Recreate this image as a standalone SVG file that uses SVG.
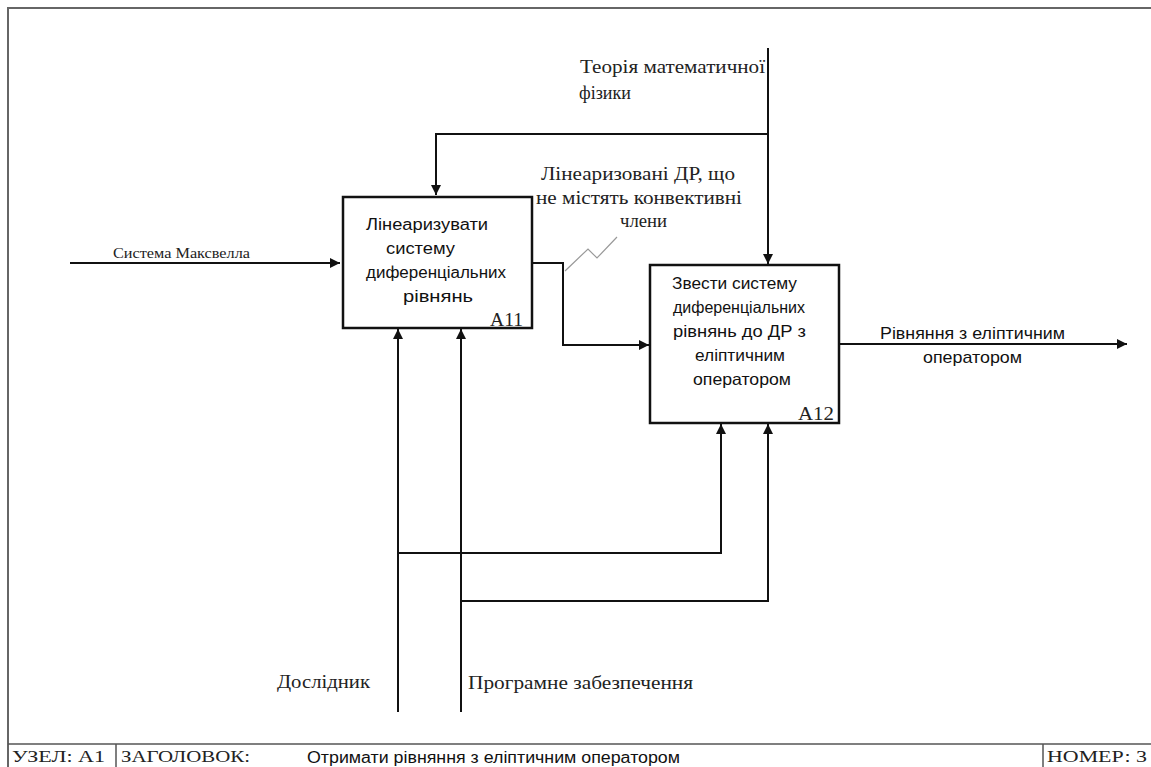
<svg xmlns="http://www.w3.org/2000/svg" width="1151" height="767" viewBox="0 0 1151 767">
<style>
.frame{fill:none;stroke:#666;stroke-width:2}
.box{fill:#fff;stroke:#111;stroke-width:2.5}
.c{fill:none;stroke:#111;stroke-width:2;marker-end:url(#ah)}
.sq{fill:none;stroke:#999;stroke-width:1.2}
.ts{font-family:"Liberation Serif",serif;fill:#222}
.as{font-family:"Liberation Sans",Arial,sans-serif;fill:#111}
</style>
<defs>
<marker id="ah" viewBox="0 0 10 10" refX="10" refY="5" markerWidth="5" markerHeight="5" orient="auto" markerUnits="strokeWidth">
<path d="M0,0 L10,5 L0,10 z" fill="#111"/>
</marker>
</defs>
<rect width="1151" height="767" fill="#fff"/>
<g id="frame">
<path class="frame" d="M1151,8 H8 V767"/>
<line x1="8" y1="744" x2="1151" y2="744" stroke="#555" stroke-width="1.5"/>
<line x1="116" y1="744" x2="116" y2="767" stroke="#555" stroke-width="1.5"/>
<line x1="1043" y1="744" x2="1043" y2="767" stroke="#555" stroke-width="1.5"/>
<text class="ts" x="12" y="762" font-size="17" textLength="93" lengthAdjust="spacingAndGlyphs">УЗЕЛ:  А1</text>
<text class="ts" x="121" y="762" font-size="17" textLength="129" lengthAdjust="spacingAndGlyphs">ЗАГОЛОВОК:</text>
<text class="as" x="307" y="763" font-size="16" textLength="373" lengthAdjust="spacingAndGlyphs">Отримати рівняння з еліптичним оператором</text>
<text class="ts" x="1047" y="762" font-size="17" textLength="100" lengthAdjust="spacingAndGlyphs">НОМЕР: 3</text>
</g>
<g id="connectors">
<path class="c" d="M768,48 V264"/>
<path class="c" d="M768,134 H436 V195" stroke-width="2.5"/>
<path class="c" d="M70,263 H340" stroke-width="2.5"/>
<path class="c" d="M532,263 H563 V345 H649" stroke-width="2.5"/>
<path class="c" d="M839,344 H1127"/>
<path class="c" d="M398,712 V329"/>
<path class="c" d="M461,712 V329"/>
<path class="c" d="M398,553 H721 V424"/>
<path class="c" d="M461,601 H768 V424" stroke-width="2.5"/>
<path class="sq" d="M565,271 L588,249 L597,258 L617,237"/>
<text class="ts" x="580" y="73" font-size="18" textLength="185" lengthAdjust="spacingAndGlyphs">Теорія математичної</text>
<text class="ts" x="579" y="99" font-size="18">фізики</text>
<text class="ts" x="113" y="258" font-size="14" textLength="137" lengthAdjust="spacingAndGlyphs">Система Максвелла</text>
<text class="ts" x="541" y="180" font-size="18" textLength="194" lengthAdjust="spacingAndGlyphs">Лінеаризовані ДР, що</text>
<text class="ts" x="536" y="204" font-size="18" textLength="206" lengthAdjust="spacingAndGlyphs">не містять конвективні</text>
<text class="ts" x="620" y="227" font-size="18" textLength="47" lengthAdjust="spacingAndGlyphs">члени</text>
<text class="as" x="880" y="339" font-size="17" textLength="185" lengthAdjust="spacingAndGlyphs">Рівняння з еліптичним</text>
<text class="as" x="923" y="363" font-size="17" textLength="99" lengthAdjust="spacingAndGlyphs">оператором</text>
<text class="ts" x="277" y="688" font-size="18" textLength="93" lengthAdjust="spacingAndGlyphs">Дослідник</text>
<text class="ts" x="468" y="689" font-size="18" textLength="225" lengthAdjust="spacingAndGlyphs">Програмне забезпечення</text>
</g>
<g id="A11">
<rect class="box" x="343" y="197" width="189" height="131"/>
<text class="as" x="366" y="230" font-size="16" textLength="122" lengthAdjust="spacingAndGlyphs">Лінеаризувати</text>
<text class="as" x="386" y="254" font-size="16" textLength="69" lengthAdjust="spacingAndGlyphs">систему</text>
<text class="as" x="366" y="278" font-size="16" textLength="140" lengthAdjust="spacingAndGlyphs">диференціальних</text>
<text class="as" x="403" y="302" font-size="16" textLength="70" lengthAdjust="spacingAndGlyphs">рівнянь</text>
<text class="ts" x="490" y="326" font-size="19" textLength="33" lengthAdjust="spacingAndGlyphs">A11</text>
</g>
<g id="A12">
<rect class="box" x="650" y="265" width="189" height="158"/>
<text class="as" x="672" y="289" font-size="16.5" textLength="125" lengthAdjust="spacingAndGlyphs">Звести систему</text>
<text class="as" x="673" y="313" font-size="16.5" textLength="132" lengthAdjust="spacingAndGlyphs">диференціальних</text>
<text class="as" x="673" y="337" font-size="16.5" textLength="133" lengthAdjust="spacingAndGlyphs">рівнянь до ДР з</text>
<text class="as" x="695" y="361" font-size="16.5" textLength="90" lengthAdjust="spacingAndGlyphs">еліптичним</text>
<text class="as" x="693" y="385" font-size="16.5" textLength="98" lengthAdjust="spacingAndGlyphs">оператором</text>
<text class="ts" x="798" y="420" font-size="19" textLength="36" lengthAdjust="spacingAndGlyphs">A12</text>
</g>
</svg>
